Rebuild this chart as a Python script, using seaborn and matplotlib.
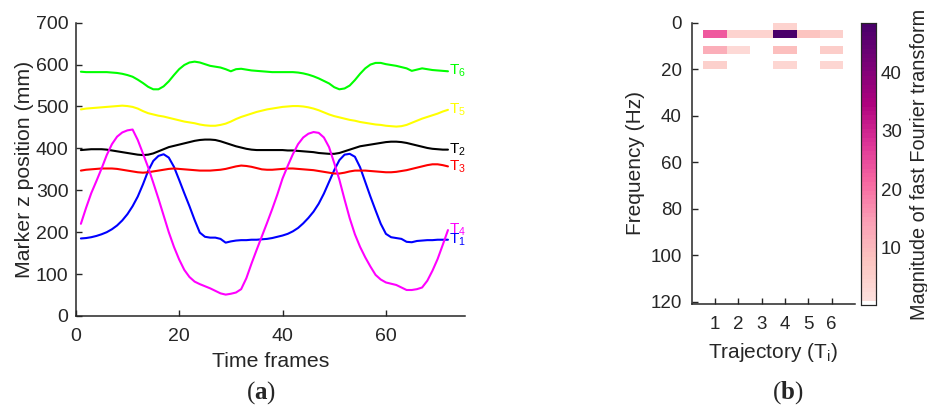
import numpy as np
import pandas as pd
import matplotlib
matplotlib.use("Agg")
import matplotlib.pyplot as plt
from matplotlib.colors import ListedColormap
import seaborn as sns

# (a) marker z position per time frame, one list per trajectory
frames = list(range(1, 73))
T1 = [185, 186, 188, 191, 195, 200, 207, 216, 228, 243, 262, 285, 314, 346, 370, 382, 386, 378,
      356, 325, 293, 262, 229, 199, 189, 187, 187, 184, 175, 178, 180, 181, 181, 182, 182, 183,
      184, 186, 189, 192, 196, 202, 210, 221, 234, 249, 268, 292, 320, 348, 372, 385, 387, 380,
      355, 320, 285, 252, 220, 196, 188, 186, 184, 177, 176, 179, 180, 181, 181, 182, 182, 182]
T2 = [396, 397, 398, 398, 398, 397, 395, 393, 391, 389, 387, 385, 384, 385, 388, 393, 398, 403,
      406, 409, 412, 415, 418, 420, 421, 421, 420, 417, 413, 409, 405, 402, 399, 397, 396, 396,
      396, 396, 396, 396, 395, 395, 394, 393, 392, 391, 389, 388, 387, 387, 389, 393, 397, 401,
      405, 407, 409, 411, 413, 415, 416, 416, 415, 413, 410, 407, 404, 401, 399, 398, 397, 397]
T3 = [347, 349, 350, 351, 352, 352, 352, 351, 349, 347, 345, 343, 342, 343, 345, 347, 349, 351,
      352, 351, 350, 349, 348, 347, 347, 347, 348, 349, 351, 354, 357, 359, 358, 356, 353, 350,
      349, 349, 350, 351, 352, 352, 351, 350, 349, 348, 346, 344, 342, 340, 340, 342, 345, 347,
      347, 347, 346, 345, 344, 343, 343, 344, 346, 348, 351, 354, 357, 360, 362, 362, 360, 357]
T4 = [220, 258, 293, 322, 352, 384, 410, 428, 438, 443, 445, 420, 388, 355, 318, 280, 240, 200,
      165, 135, 110, 93, 82, 76, 71, 66, 60, 54, 51, 53, 56, 64, 90, 125, 158, 190,
      222, 255, 290, 328, 358, 386, 410, 426, 435, 439, 437, 426, 403, 365, 325, 278, 233, 195,
      165, 140, 118, 98, 87, 80, 77, 74, 68, 62, 62, 64, 68, 84, 108, 136, 170, 205]
T5 = [493, 495, 496, 497, 498, 499, 500, 501, 502, 501, 499, 495, 489, 484, 481, 478, 476, 473,
      470, 467, 464, 462, 460, 457, 455, 454, 454, 456, 459, 464, 470, 475, 479, 483, 487, 490,
      493, 495, 497, 499, 500, 501, 501, 500, 498, 495, 491, 486, 481, 477, 474, 471, 468, 466,
      463, 461, 459, 457, 456, 454, 453, 452, 453, 456, 461, 466, 471, 475, 479, 483, 488, 492]
T6 = [583, 582, 582, 582, 582, 582, 581, 580, 578, 575, 571, 564, 556, 547, 541, 541, 548, 560,
      575, 589, 599, 605, 607, 605, 601, 597, 595, 593, 589, 584, 589, 590, 588, 586, 585, 584,
      583, 582, 582, 582, 582, 582, 581, 579, 576, 572, 567, 561, 555, 546, 541, 543, 550, 563,
      578, 591, 600, 604, 604, 601, 599, 597, 594, 591, 585, 588, 591, 589, 587, 586, 585, 584]

series = {"1": T1, "2": T2, "3": T3, "4": T4, "5": T5, "6": T6}
line_colors = {"1": "#0000ff", "2": "#000000", "3": "#ff0000",
               "4": "#ff00ff", "5": "#ffff00", "6": "#00ff00"}

# (b) FFT magnitude: 36 frequency bins of 120/36 Hz, 6 trajectories
trajectories = [1, 2, 3, 4, 5, 6]
hz_ticks = [0, 20, 40, 60, 80, 100, 120]
n_bins = 36
bin_hz = 120 / n_bins
fft_rows = {  # bin index -> magnitudes for T1..T6
    0: [0, 0, 0, 4, 0, 0],
    1: [23, 4, 4, 48.6, 8, 5],
    3: [12, 2.5, 0, 9, 0, 6],
    5: [5, 0, 0, 3.5, 0, 3.5],
}
fft_vmax = 48.6

mag = np.zeros((n_bins, len(trajectories)))
for k, vals in fft_rows.items():
    mag[k] = vals
mag_df = pd.DataFrame(mag, columns=trajectories)

sns.set_style("ticks")
plt.rcParams['font.family'] = ['Liberation Sans', 'DejaVu Sans']
plt.rcParams['mathtext.default'] = 'regular'
plt.rcParams['mathtext.fontset'] = 'custom'
plt.rcParams['mathtext.bf'] = 'Liberation Serif:bold'

dark = "#262626"
fig = plt.figure(figsize=(9.28, 4.05), dpi=100)

# ---- (a) line plot ----
ax = fig.add_axes([0.0816, 0.2198, 0.4195, 0.7242])
for key, vals in series.items():
    sns.lineplot(x=frames, y=vals, color=line_colors[key], linewidth=1.5, ax=ax)
    ax.text(frames[-1] + 0.2, vals[-1], r'T$_{%s}$' % key, color=line_colors[key],
            fontsize=11, ha='left', va='center')
ax.set_xlim(0, 75.3)
ax.set_ylim(0, 700)
ax.set_xticks([0, 20, 40, 60])
ax.set_yticks(range(0, 701, 100))
ax.set_xlabel("Time frames", fontsize=15.3, color=dark, labelpad=5)
ax.set_ylabel("Marker z position (mm)", fontsize=15.3, color=dark, labelpad=1)
ax.tick_params(direction='in', length=4, width=1, colors=dark, labelsize=14)
ax.tick_params(axis='x', pad=8.5)
ax.tick_params(axis='y', pad=5.3)
for s in ['top', 'right']:
    ax.spines[s].set_visible(False)
for s in ['left', 'bottom']:
    ax.spines[s].set_color(dark)
    ax.spines[s].set_linewidth(1.1)

# ---- (b) heatmap ----
rect = [0.7454, 0.2494, 0.176, 0.6946]

# frame, ticks and tick labels first, in trajectory / Hz units
ox = fig.add_axes(rect, facecolor='white')
ox.set_xlim(0, 7)
ox.set_ylim(121, 0)
ox.set_xticks(trajectories)
ox.set_yticks(hz_ticks)
ox.set_ylabel("Frequency (Hz)", fontsize=15, color=dark, labelpad=4)
ox.tick_params(direction='in', length=4, width=1, colors=dark, labelsize=13.5)
ox.tick_params(axis='x', pad=8.5)
ox.tick_params(axis='y', pad=7.2)
for s in ['top', 'right']:
    ox.spines[s].set_visible(False)
for s in ['left', 'bottom']:
    ox.spines[s].set_color(dark)
    ox.spines[s].set_linewidth(1.1)

# heatmap on a transparent axes above it; zero cells are left empty
rdpu = plt.get_cmap("RdPu")
cmap = ListedColormap([(1, 1, 1, 1)] + [rdpu(v) for v in np.linspace(0.13, 1.0, 63)])
hx = fig.add_axes(rect)
hx.patch.set_alpha(0)
cx = fig.add_axes([0.9278, 0.2457, 0.0162, 0.6983])
sns.heatmap(mag_df, mask=(mag_df == 0), cmap=cmap, vmin=0, vmax=fft_vmax, ax=hx,
            cbar_ax=cx, xticklabels=False, yticklabels=False)
hx.set_xlim(-0.5, 6.5)
hx.set_ylim(121 / bin_hz, 0)
hx.set_xlabel("")
hx.set_ylabel("")
hx.set_xticks([])
hx.set_yticks([])
for s in hx.spines.values():
    s.set_visible(False)

fig.text(773 / 928, 1 - 358 / 405, r"Trajectory (T$_i$)", fontsize=15, color=dark,
         ha='center', va='baseline')

cx.set_yticks([10, 20, 30, 40])
cx.tick_params(direction='in', length=3, width=1, colors=dark, labelsize=13.5)
cx.set_ylabel("Magnitude of fast Fourier transform", fontsize=14.3, color=dark,
              rotation=90, labelpad=6)
cx.yaxis.set_label_position('right')
for s in cx.spines.values():
    s.set_visible(True)
    s.set_color(dark)
    s.set_linewidth(0.8)

# captions
fig.text(261 / 928, 1 - 393 / 405, r'($\mathbf{a}$)', family='Liberation Serif',
         fontsize=18, ha='center', va='center')
fig.text(788 / 928, 1 - 393 / 405, r'($\mathbf{b}$)', family='Liberation Serif',
         fontsize=18, ha='center', va='center')

fig.savefig("out.png", dpi=100)
